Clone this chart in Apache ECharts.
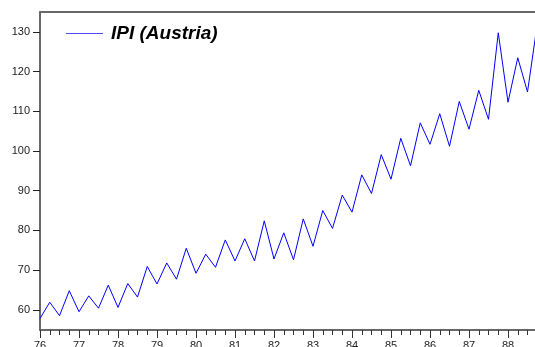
<!DOCTYPE html>
<html>
<head>
<meta charset="utf-8">
<script src="https://cdn.jsdelivr.net/npm/echarts@6/dist/echarts.min.js"></script>
<style>
  html, body { margin: 0; padding: 0; background: #fff; }
  #chart { width: 535px; height: 347px; }
</style>
</head>
<body>
<div id="chart"></div>
<script>
// Quarterly industrial production index for Austria, 1976Q1 onwards
const startYear = 76;
const quartersPerYear = 4;
const ipi = [
  57.8, 61.9, 58.5, 64.8,
  59.5, 63.5, 60.4, 66.2,
  60.6, 66.6, 63.2, 70.9,
  66.5, 71.8, 67.7, 75.5,
  69.2, 74.0, 70.7, 77.6,
  72.3, 77.9, 72.3, 82.4,
  72.8, 79.4, 72.6, 82.9,
  76.0, 85.0, 80.5, 88.9,
  84.6, 94.0, 89.3, 99.1,
  92.9, 103.2, 96.3, 107.1,
  101.7, 109.4, 101.2, 112.5,
  105.5, 115.3, 108.0, 129.8,
  112.3, 123.5, 114.9, 132.0
];
const yTicks = [60, 70, 80, 90, 100, 110, 120, 130];
const seriesName = 'IPI (Austria)';

// one category per quarter, labelled by year at each first quarter
const periods = ipi.map((_, i) => {
  const yr = startYear + Math.floor(i / quartersPerYear);
  return yr + 'Q' + (i % quartersPerYear + 1);
});

const axisGray = '#686868';
const font = 'Liberation Sans, Arial, sans-serif';

const chart = echarts.init(document.getElementById('chart'), null, { renderer: 'canvas' });
chart.setOption({
  animation: false,
  backgroundColor: '#ffffff',
  grid: {
    left: 40, right: -2.25, top: 12, bottom: 17,
    containLabel: false, outerBoundsMode: 'none'
  },
  legend: {
    left: 61, top: 19,
    itemWidth: 37, itemHeight: 14,
    icon: 'path://M0,7 L37,7 L37,8 L0,8 Z',
    data: [{ name: seriesName, itemStyle: { color: '#4d4dff' } }],
    textStyle: {
      fontFamily: font, fontSize: 19, fontWeight: 'bold', fontStyle: 'italic',
      color: '#000', padding: [0, 0, 0, 3]
    }
  },
  xAxis: [
    {
      // major (yearly) ticks and labels
      type: 'category', position: 'bottom', data: periods, boundaryGap: false,
      axisLine: { show: true, lineStyle: { color: axisGray, width: 2 } },
      axisTick: { show: true, interval: 3, length: 8, lineStyle: { color: '#333', width: 1 } },
      axisLabel: {
        interval: 3, margin: 10,
        formatter: v => v.slice(0, 2),
        fontFamily: font, fontSize: 11, color: '#222'
      },
      splitLine: { show: false }
    },
    {
      // quarterly minor ticks
      type: 'category', position: 'bottom', data: periods, boundaryGap: false,
      axisLine: { show: false },
      axisTick: { show: true, interval: 0, length: 5, lineStyle: { color: '#333', width: 1 } },
      axisLabel: { show: false },
      splitLine: { show: false }
    },
    {
      // frame line along the top
      type: 'category', position: 'top', data: periods, boundaryGap: false,
      axisLine: { show: true, lineStyle: { color: axisGray, width: 2 } },
      axisTick: { show: false }, axisLabel: { show: false }, splitLine: { show: false }
    }
  ],
  yAxis: {
    type: 'value', min: 54.9, max: 135.04,
    axisLine: { show: true, lineStyle: { color: axisGray, width: 2 } },
    axisTick: { show: true, length: 7, customValues: yTicks, lineStyle: { color: '#222', width: 1 } },
    axisLabel: {
      customValues: yTicks, margin: 10,
      fontFamily: font, fontSize: 11, color: '#222'
    },
    splitLine: { show: false }
  },
  series: [{
    name: seriesName,
    type: 'line',
    xAxisIndex: 0,
    data: ipi,
    symbol: 'none',
    lineStyle: { color: '#0000ff', width: 1 },
    itemStyle: { color: '#0000ff' },
    clip: true
  }]
});
</script>
</body>
</html>
